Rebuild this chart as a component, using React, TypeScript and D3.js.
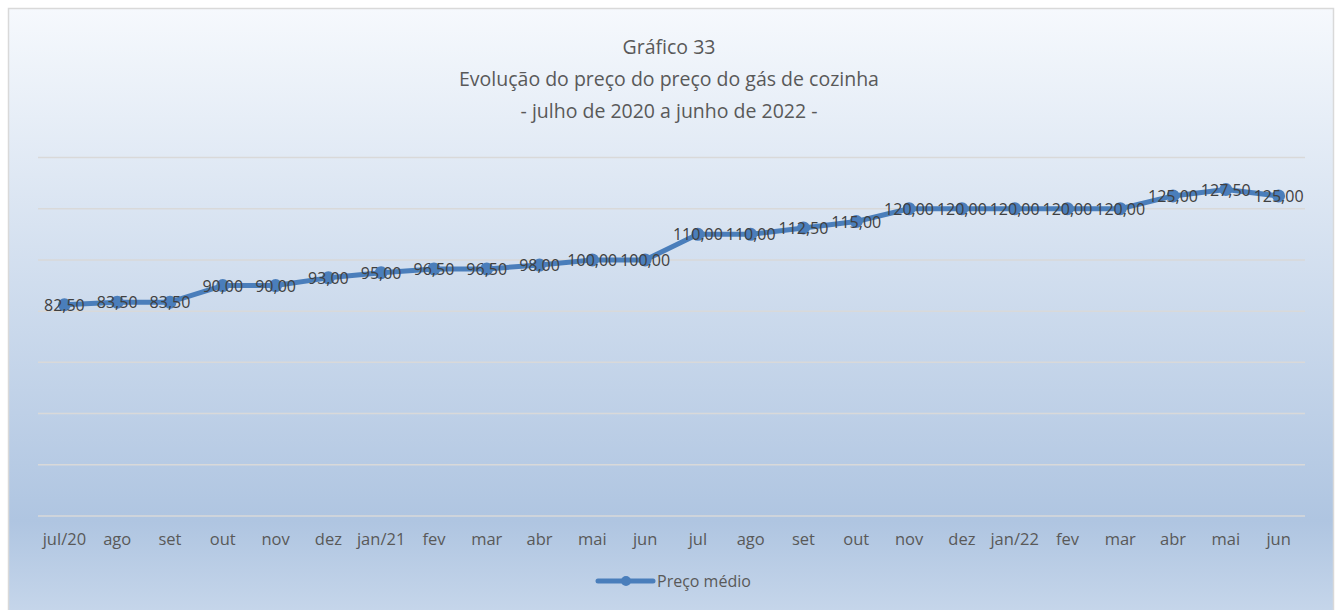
import React from "react";
import * as d3 from "d3";

const categories = ["jul/20","ago","set","out","nov","dez","jan/21","fev","mar","abr","mai","jun","jul","ago","set","out","nov","dez","jan/22","fev","mar","abr","mai","jun"];
const values = [82.5,83.5,83.5,90,90,93,95,96.5,96.5,98,100,100,110,110,112.5,115,120,120,120,120,120,125,127.5,125];
const yTicks = [0,20,40,60,80,100,120,140];
const titleLines = ["Gráfico 33","Evolução do preço do preço do gás de cozinha","- julho de 2020 a junho de 2022 -"];
const seriesName = "Preço médio";

const W = 1338, H = 610;
const FONT = "'Open Sans', 'Noto Sans', sans-serif";

export default function App() {
  const x = d3.scaleBand<string>().domain(categories.map((c, i) => i + "")).range([38, 1305]);
  const y = d3.scaleLinear().domain([0, 140]).range([516, 157.5]);
  const cx = (i: number) => (x(i + "") as number) + x.bandwidth() / 2;
  const line = d3.line<number>().x((_, i) => cx(i)).y(d => y(d));
  const fmt = (v: number) => v.toFixed(2).replace(".", ",");
  return (
    <svg width={W} height={H} style={{ position: "absolute", left: 0, top: 0 }}>
      <defs>
        <linearGradient id="bg" x1="0" y1="0" x2="0" y2="1">
          <stop offset="0" stopColor="#f6f9fd" />
          <stop offset="0.84" stopColor="#afc5e1" />
          <stop offset="1" stopColor="#c7d7eb" />
        </linearGradient>
      </defs>
      <rect x={8.5} y={8.5} width={1325} height={610} fill="url(#bg)" stroke="#d9d9d9" strokeWidth={1.5} />
      {titleLines.map((t, i) => (
        <text key={i} x={669} y={46 + i * 32} textAnchor="middle" dominantBaseline="central" fontFamily={FONT} fontSize={19.5} fill="#595959">{t}</text>
      ))}
      {yTicks.map(t => (
        <line key={t} x1={38} x2={1305} y1={y(t)} y2={y(t)} stroke="#d9d9d9" strokeWidth={1.5} />
      ))}
      {categories.map((c, i) => (
        <text key={i} x={cx(i)} y={538} textAnchor="middle" dominantBaseline="central" fontFamily={FONT} fontSize={16.5} fill="#595959">{c}</text>
      ))}
      <path d={line(values) as string} fill="none" stroke="#4a7ebb" strokeWidth={5} strokeLinejoin="round" />
      {values.map((v, i) => (
        <circle key={i} cx={cx(i)} cy={y(v)} r={6.5} fill="#4a7ebb" />
      ))}
      {values.map((v, i) => (
        <text key={i} x={cx(i)} y={y(v)} textAnchor="middle" dominantBaseline="central" fontFamily={FONT} fontSize={16} fill="#404040">{fmt(v)}</text>
      ))}
      <line x1={598} x2={653} y1={581} y2={581} stroke="#4a7ebb" strokeWidth={5} strokeLinecap="round" />
      <circle cx={626} cy={581} r={5} fill="#4a7ebb" />
      <text x={657} y={581} dominantBaseline="central" fontFamily={FONT} fontSize={16} fill="#595959">{seriesName}</text>
    </svg>
  );
}
